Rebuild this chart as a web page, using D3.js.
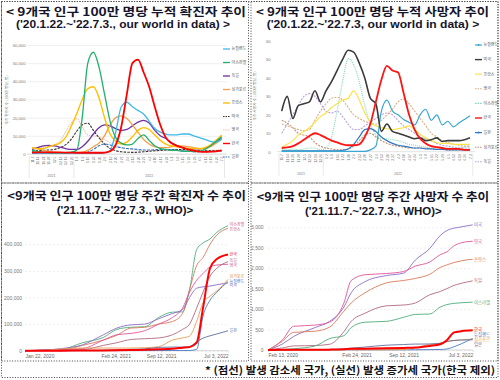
<!DOCTYPE html>
<html><head><meta charset="utf-8">
<script src="https://cdn.jsdelivr.net/npm/d3@7"></script>
<style>body{margin:0;background:#fff}svg{display:block}</style>
</head><body>
<svg id="c" width="500" height="380"></svg>
<script>
// ---------- shared categories ----------
const weekLabels = ["11.7","11.14","11.21","11.28","12.5","12.12","12.19","12.26","1.2","1.9","1.16","1.23","1.30","2.6","2.13","2.20","2.27","3.6","3.13","3.20","3.27","4.3","4.10","4.17","4.24","5.1","5.8","5.15","5.22","5.29","6.5","6.12","6.19","6.26","7.3"];
const yearLabels = ["2021","2022"];
const yearSplitIndex = 8;

// ---------- top-left: weekly cases per million ----------
const tlNames = ["뉴질랜드","이스라엘","독일","싱가포르","프랑스","미국","영국","한국","일본"];
const casesNZ = [300,300,300,300,300,300,300,300,300,300,300,300,400,600,2000,12000,26000,28500,26000,24000,22000,18000,14000,12000,11000,10500,10500,11000,11000,10000,9000,8000,7000,6500,8500];
const casesIsrael = [2000,1500,1000,800,700,700,800,1000,2000,20000,50000,56000,48000,33000,18000,9000,6000,5000,5500,8500,10500,7500,4500,3000,2500,2000,2000,1500,1500,1300,1500,2500,4500,7000,9500];
const casesGermany = [2500,3500,4500,4800,4500,3800,3000,2500,2500,4000,7000,11000,14500,16000,15500,14000,13000,13500,15500,17500,18500,17000,13000,10000,8500,6000,4500,3500,3000,2800,2800,3200,4500,6500,9000];
const casesSingapore = [3500,3000,2000,1500,1000,800,800,800,800,1000,2000,4000,6000,10000,16000,20000,21000,19500,16000,12000,8000,5500,4000,3500,3500,4000,4500,4500,4000,3500,3000,3000,4000,6000,8000];
const casesFrance = [3500,2800,3000,4000,5000,6000,9000,15000,22000,30000,36000,37000,31000,20000,11000,7000,5500,6500,9500,13000,14500,13500,10500,7500,5500,4500,4000,3500,3000,3000,3000,3500,5000,7500,10500];
const casesUS = [1500,1800,2000,2200,2500,3500,5000,8000,12500,16000,17000,13000,9000,5500,3000,1800,1200,1000,900,1000,1200,1500,1800,2000,2200,2500,2500,2500,2200,2000,1800,1800,1800,1800,1800];
const casesUK = [3500,3500,3500,4000,5000,7000,12000,17000,19500,15000,10500,10000,9500,8000,6000,4500,3500,3000,2500,2000,1800,1800,1800,1800,1800,1800,1800,1800,1800,1800,1800,1800,2000,2200,2500];
const casesKorea = [800,850,900,900,900,850,800,750,700,700,700,700,700,800,1500,5000,15000,33000,50000,52000,45000,37000,26000,16000,9000,6000,4500,3500,2500,1800,1300,1200,1300,1500,1800];
const casesJapan = [400,400,400,400,400,400,400,400,400,400,1000,2500,4500,5500,5000,4000,3500,3000,2800,2500,2200,2200,2300,2500,2500,2300,2000,1800,1500,1300,1200,1200,1300,1500,1800];
const tlYTicks = [0,10000,20000,30000,40000,50000,60000];

// ---------- top-right: weekly deaths per million ----------
const trNames = ["뉴질랜드","미국","프랑스","영국","이스라엘","한국","일본","싱가포르","독일"];
const deathsNZ = [0.2,0.2,0.2,0.2,0.2,0.2,0.2,0.2,0.2,0.2,0.2,0.2,0.2,0.2,0.2,0.2,1,3,22,28,22,20,17.5,16,14.5,20,23,17,20,14.5,16.5,13.5,15.5,17.5,19.5];
const deathsUS = [22,30,18,25,26,27,33,27,33,38,44,50,55,54,48,40,29,26,11,15,11,10,9,8,7,7.5,6,6.5,7.5,5.5,6,6,6,6.5,7.5];
const deathsFrance = [2.5,4,6,9,11,13,16,19,21,24,26,28,29,33,28,21,16,14,13,12.5,12,12.5,13,14,12,9.5,7.5,6,5,4.5,4.5,4,4,4,4];
const deathsUK = [15,14,13,12,11.5,12,17,22,26,29,29.5,28,24,20,18,16.5,15.5,15,17,20,23,27,28.5,26,22,18,14,10,8,6,5,4,3.5,3,3];
const deathsIsrael = [1,1,1.5,1,1.5,2,2,1,2,8,22,38,50.5,47,38,25,15,9,7,7,6.5,6,5,4,3.5,3,2.5,2,2,2,2,2,2,2.5,3];
const deathsKorea = [2,2.3,3,4.5,6.5,8.5,10,9,7.5,6,5,4,3.5,3.5,4,8,15,27,39,46.5,44,43,32,20,12,7,4.5,3,2.5,2,1.5,1.5,1.5,1,1];
const deathsJapan = [0.5,0.5,0.5,0.5,0.5,0.5,0.5,0.5,0.5,0.5,0.5,0.8,1.5,4,8,12,12.5,11,8,6,4.5,3.5,3,2.5,2,2,1.5,1.5,1.2,1.2,1,1,1,1,1];
const deathsSingapore = [17,15.5,13,10,9,8,5,3,2,1.5,1,1,1.5,3,6,9,10,8,6,4.5,3.5,3,2.5,2,2,2,2,1.5,1.5,1.5,1,1,1,1,1];
const deathsGermany = [10,15,20,25,30,31.5,30,26,22,21,22,19,15,12,12,14,16,18,20,21,20,17,14,12,10,8,7,6,4.5,3.5,3,2.5,2,2,2];
const trYTicks = [0,10,20,30,40,50,60];

// ---------- bottom-left: cumulative cases per million ----------
const blNames = ["이스라엘","프랑스","영국","독일","미국","싱가포르","뉴질랜드","일본","한국"];
const blDates = ["2020-01-22","2020-04-01","2020-07-01","2020-10-01","2021-01-01","2021-03-01","2021-05-01","2021-07-01","2021-09-01","2021-11-01","2021-12-15","2022-01-15","2022-02-15","2022-03-15","2022-04-15","2022-05-15","2022-07-03"];
const cumCasesIsrael = [0,1500,5000,30000,50000,80000,88000,90000,125000,145000,146000,230000,380000,405000,420000,445000,470000];
const cumCasesFrance = [0,2000,3000,20000,40000,58000,85000,88000,100000,110000,140000,230000,320000,350000,400000,435000,460000];
const cumCasesUK = [0,2000,4000,8000,40000,60000,65000,75000,100000,125000,160000,220000,265000,290000,315000,322000,325000];
const cumCasesGermany = [0,1500,2500,4000,20000,30000,42000,45000,48000,60000,80000,100000,160000,220000,280000,310000,335000];
const cumCasesUS = [0,1500,8000,22000,60000,85000,97000,100000,120000,140000,155000,200000,235000,240000,243000,248000,255000];
const cumCasesSingapore = [0,500,7000,10000,10000,10000,10000,11000,15000,40000,48000,55000,110000,180000,205000,225000,268000];
const cumCasesNZ = [0,300,300,350,400,450,500,550,600,700,800,900,5000,130000,190000,220000,260000];
const cumCasesJapan = [0,50,150,700,1800,3500,5000,6500,12500,13600,13700,16000,33000,47000,56000,63000,75000];
const cumCasesKorea = [0,200,250,500,1200,1700,2500,3500,5200,7500,11000,13500,30000,160000,310000,345000,362000];
const blYTicks = [0,100000,200000,300000,400000];
const blXTicks = ["2020-01-22","2021-02-24","2021-09-12","2022-07-03"];

// ---------- bottom-right: cumulative deaths per million ----------
const brNames = ["미국","영국","프랑스","독일","이스라엘","뉴질랜드","싱가포르","일본","한국"];
const brDates = ["2020-02-13","2020-04-15","2020-06-01","2020-09-01","2020-11-01","2021-01-01","2021-02-01","2021-04-01","2021-07-01","2021-09-12","2021-11-01","2022-01-01","2022-02-15","2022-03-15","2022-04-15","2022-05-15","2022-07-03"];
const cumDeathsUS = [0,150,330,550,700,1050,1400,1670,1820,1880,2200,2480,2800,2920,2980,3010,3060];
const cumDeathsUK = [0,250,580,610,680,1150,1700,1840,1870,1920,2050,2150,2330,2400,2550,2620,2660];
const cumDeathsFrance = [0,220,430,460,560,950,1150,1400,1640,1700,1750,1850,2020,2080,2140,2180,2220];
const cumDeathsGermany = [0,50,100,110,140,450,700,900,1080,1100,1150,1350,1430,1500,1580,1630,1690];
const cumDeathsIsrael = [0,10,30,100,280,350,550,680,700,800,870,880,1050,1110,1140,1155,1170];
const cumDeathsNZ = [0,2,4,5,5,5,5,5,5,5,6,10,12,25,80,150,285];
const cumDeathsSingapore = [0,1,2,5,5,5,5,5,6,10,50,140,160,200,235,245,265];
const cumDeathsJapan = [0,1,7,10,14,27,45,72,118,133,145,146,165,210,232,244,250];
const cumDeathsKorea = [0,4,5,6,9,18,28,33,40,50,60,100,140,240,430,460,480];
const brYTicks = [0,500,1000,1500,2000,2500,3000];
const brXTicks = ["2020-02-13","2021-02-24","2021-09-12","2022-07-03"];

// ---------- titles ----------
const titles = [
  "< 9개국 인구 100만 명당 누적 확진자 추이",
  "('20.1.22.~'22.7.3., our world in data) >",
  "< 9개국 인구 100만 명당 누적 사망자 추이",
  "('20.1.22.~'22.7.3, our world in data) >",
  "<9개국 인구 100만 명당 주간 확진자 수 추이",
  "('21.11.7.~'22.7.3., WHO)>",
  "<9개국 인구 100만 명당 주간 사망자 수 추이",
  "('21.11.7.~'22.7.3., WHO)>"
];
const footnote = "* (점선) 발생 감소세 국가, (실선) 발생 증가세 국가(한국 제외)";

// ================= drawing =================
const FONT = "'Noto Sans CJK KR','Noto Sans',sans-serif";
const svg = d3.select("#c").attr("font-family", FONT);
svg.append("rect").attr("width",500).attr("height",380).attr("fill","#fff");

// dotted borders
const dot = {stroke:"#444","stroke-width":1,"stroke-dasharray":"1,1.6",fill:"none"};
function drect(x,y,w,h){const r=svg.append("rect").attr("x",x).attr("y",y).attr("width",w).attr("height",h);for(const k in dot)r.attr(k,dot[k]);}
drect(1.5,1.5,247,181.5);
drect(251,1.5,247,181.5);
drect(1.5,183,247,178);
drect(251,183,247,178);
drect(1.5,1.5,496.5,376);

// titles (line 1 Korean, line 2 Latin)
const titlePos = [[6,16,240],[16,27.5,214],[256,16,233],[266.7,27.5,212.6],[7.3,200,238.7],[56.7,214,136.6],[256.7,201,232.6],[305,215,136.7]];
titles.forEach((t,i)=>{
  const p=titlePos[i];
  svg.append("text").attr("x",p[0]).attr("y",p[1]).attr("textLength",p[2]).attr("lengthAdjust","spacingAndGlyphs")
    .attr("font-size",i%2===0?11.5:11.5).attr("font-weight","bold").attr("fill","#15152a")
    .attr("font-family",i%2===0?FONT:"'Liberation Sans','Noto Sans',sans-serif").text(t);
});
svg.append("text").attr("x",205).attr("y",373.5).attr("textLength",290).attr("lengthAdjust","spacingAndGlyphs")
  .attr("font-size",10.5).attr("font-weight","bold").attr("fill","#111").text(footnote);

// ---------- weekly panel helper ----------
function weeklyPanel(o){
  const g = svg.append("g");
  const x = d3.scalePoint().domain(weekLabels).range([o.x0,o.x1]);
  const y = d3.scaleLinear().domain([0,o.yMax]).range([o.yb,o.yt]);
  const step = x.step();
  const gy = g.append("g").attr("transform",`translate(${o.x0-step*0.9},0)`)
    .call(d3.axisLeft(y).tickValues(o.ticks).tickSize(o.grid?-(o.x1-o.x0+step*1.8):0).tickFormat(d3.format(",")));
  gy.select(".domain").remove();
  gy.selectAll("line").attr("stroke","#e4e4e4").attr("stroke-width",0.6);
  gy.selectAll("text").attr("font-size",4.2).attr("fill","#777").attr("x",o.tickX).attr("font-family","'Liberation Sans',sans-serif");
  g.append("line").attr("x1",o.x0-step*0.9).attr("x2",o.x1+step*0.9).attr("y1",y(0)).attr("y2",y(0)).attr("stroke","#d0d0d0").attr("stroke-width",0.6);
  const gx = g.append("g").attr("transform",`translate(0,${o.yb+1.5})`).call(d3.axisBottom(x).tickSize(0));
  gx.select(".domain").remove();
  gx.selectAll("text").attr("transform","rotate(-90)").attr("x",-1).attr("y",0).attr("dy","0.35em")
    .attr("text-anchor","end").attr("font-size",3.4).attr("fill","#777").attr("font-family","'Liberation Sans',sans-serif");
  const sepX = [x(weekLabels[0])-step/2, (x(weekLabels[yearSplitIndex-1])+x(weekLabels[yearSplitIndex]))/2, x(weekLabels[weekLabels.length-1])+step/2];
  sepX.forEach(sx=>g.append("line").attr("x1",sx).attr("x2",sx).attr("y1",o.yb+2).attr("y2",o.yb+24).attr("stroke","#d8d8d8").attr("stroke-width",0.6));
  yearLabels.forEach((yl,i)=>g.append("text").attr("x",(sepX[i]+sepX[i+1])/2).attr("y",o.yb+23).attr("text-anchor","middle")
    .attr("font-size",3.6).attr("fill","#777").text(yl));
  g.append("text").attr("transform",`translate(${o.titleX},${o.titleY}) rotate(-90)`).attr("text-anchor","middle")
    .attr("font-size",3.8).attr("fill","#888").text(o.yTitle);
  const line = d3.line().x((d,i)=>x(weekLabels[i])).y(d=>y(d)).curve(d3.curveMonotoneX);
  o.order.forEach(k=>{
    const s=o.series[k];
    g.append("path").attr("d",line(s.values)).attr("fill","none").attr("stroke",s.color)
      .attr("stroke-width",s.w).attr("stroke-dasharray",s.dash||null).attr("stroke-linejoin","round");
  });
  o.series.forEach((s,i)=>{
    const ly=o.legY+i*o.legStep;
    g.append("line").attr("x1",o.legX).attr("x2",o.legX+7).attr("y1",ly).attr("y2",ly).attr("stroke",s.color)
      .attr("stroke-width",Math.min(s.w,1.4)).attr("stroke-dasharray",s.dash?"1.5,1":null);
    if(s.marker) g.append("circle").attr("cx",o.legX+3.5).attr("cy",ly).attr("r",1).attr("fill",s.color);
    g.append("text").attr("x",o.legX+8.5).attr("y",ly).attr("dy","0.35em").attr("font-size",4).attr("fill","#555").text(s.name);
  });
}

const tlValues=[casesNZ,casesIsrael,casesGermany,casesSingapore,casesFrance,casesUS,casesUK,casesKorea,casesJapan];
const tlStyle=[["#3DB8EA",1.3,null],["#22B06C",1.3,null],["#7030A0",1.3,null],["#F5A04A",1.3,null],["#FFC000",1.4,null],["#3A302C",1.1,"2.5,1.2"],["#E9C2AE",1.2,"1.2,1"],["#FF0000",1.8,null],["#2E74C8",1.1,"3,1.2"]];
weeklyPanel({x0:32,x1:221.7,yb:154,yt:45,yMax:60000,ticks:tlYTicks,grid:true,tickX:-1.5,
  titleX:8,titleY:100,yTitle:"주간 확진자 수 (100만 명당, 명)",
  series:tlNames.map((n,i)=>({name:n,values:tlValues[i],color:tlStyle[i][0],w:tlStyle[i][1],dash:tlStyle[i][2]})),
  order:[6,5,8,2,3,4,0,1,7],legX:223,legY:49,legStep:13.5});

const trValues=[deathsNZ,deathsUS,deathsFrance,deathsUK,deathsIsrael,deathsKorea,deathsJapan,deathsSingapore,deathsGermany];
const trStyle=[["#3AA6D4",1.2,null,1],["#3B3B3B",1.6,null],["#FFE24A",1.2,null],["#D8AE8A",1.1,"2,1.2"],["#7ED9B2",1.1,"1,1"],["#FF1414",1.8,null],["#2E78C2",1.2,null,1],["#C09070",1.1,"2,1.2"],["#B9A2DA",1.1,"2,1.2"]];
weeklyPanel({x0:281.7,x1:470,yb:151.7,yt:41,yMax:60,ticks:trYTicks,grid:false,tickX:-6,
  titleX:256,titleY:96,yTitle:"주간 사망자 수 (100만 명당, 명)",
  series:trNames.map((n,i)=>({name:n,values:trValues[i],color:trStyle[i][0],w:trStyle[i][1],dash:trStyle[i][2],marker:trStyle[i][3]})),
  order:[8,7,3,4,2,6,0,1,5],legX:475,legY:45,legStep:14.6});

// ---------- cumulative panel helper ----------
function relax(items,gap,iters){
  items.sort((a,b)=>a.ly-b.ly);
  for(let k=0;k<iters;k++){
    let moved=false;
    for(let i=1;i<items.length;i++){
      const d=items[i].ly-items[i-1].ly;
      if(d<gap){const m=(gap-d)/2;items[i].ly+=m;items[i-1].ly-=m;moved=true;}
    }
    if(!moved)break;
  }
}
function cumPanel(o){
  const g=svg.append("g");
  const parse=d3.timeParse("%Y-%m-%d");
  const x=d3.scaleTime().domain([parse(o.dates[0]),parse(o.dates[o.dates.length-1])]).range([o.x0,o.x1]);
  const y=d3.scaleLinear().domain([0,o.yTop]).range([o.yb,o.yt]);
  const gy=g.append("g").attr("transform",`translate(${o.x0},0)`)
    .call(d3.axisLeft(y).tickValues(o.yTicks).tickSize(-(o.x1-o.x0)).tickFormat(d3.format(",")));
  gy.select(".domain").remove();
  gy.selectAll(".tick line").attr("stroke","#e2e2e2").attr("stroke-width",0.6).attr("stroke-dasharray","2,2");
  gy.selectAll("text").attr("font-size",5).attr("fill","#777").attr("x",o.tickLabelX-o.x0).attr("font-family","'Liberation Sans',sans-serif");
  g.append("line").attr("x1",o.x0).attr("x2",o.x1).attr("y1",y(0)).attr("y2",y(0)).attr("stroke","#bbb").attr("stroke-width",0.6);
  const fmt=d3.timeFormat("%b %-d, %Y");
  const gx=g.append("g").attr("transform",`translate(0,${o.yb})`)
    .call(d3.axisBottom(x).tickValues(o.xTicks.map(parse)).tickSize(2).tickPadding(1.5).tickFormat(fmt));
  gx.select(".domain").remove();
  gx.selectAll("line").attr("stroke","#bbb").attr("stroke-width",0.5);
  gx.selectAll("text").attr("font-size",5).attr("fill","#666").attr("font-family","'Liberation Sans',sans-serif")
    .attr("text-anchor",(d,i)=>i===0?"start":(i===o.xTicks.length-1?"end":"middle"));
  const line=d3.line().x((d,i)=>x(parse(o.dates[i]))).y(d=>y(d)).curve(d3.curveMonotoneX);
  o.series.forEach(s=>{
    g.append("path").attr("d",line(s.values)).attr("fill","none").attr("stroke",s.color).attr("stroke-width",s.w).attr("stroke-linejoin","round");
  });
  const labs=o.series.map(s=>({s,ly:y(s.values[s.values.length-1])}));
  relax(labs,o.gap,300);
  labs.forEach(l=>g.append("text").attr("x",o.labelX).attr("y",l.ly).attr("dy","0.35em").attr("font-size",o.labelSize)
    .attr("fill",l.s.labelColor||l.s.color).text(l.s.name));
}

const blValues=[cumCasesIsrael,cumCasesFrance,cumCasesUK,cumCasesGermany,cumCasesUS,cumCasesSingapore,cumCasesNZ,cumCasesJapan,cumCasesKorea];
const blColors=["#4DAE7A","#D9795A","#E0559A","#B06A80","#8C6CC6","#E99A55","#4A7AC8","#5F6F9E","#FF0000"];
const blLabelColors=["#D24A8A","#C8506E","#D84A8E","#B0607A","#8060C0","#E08A45","#4A70C0","#6070A0","#E00000"];
cumPanel({dates:blDates,x0:25,x1:228,yb:350.7,yt:244.3,yTop:400000,yTicks:blYTicks,xTicks:blXTicks,tickLabelX:22,
  series:blNames.map((n,i)=>({name:n,values:blValues[i],color:blColors[i],labelColor:blLabelColors[i],w:n==="한국"?2:0.9})),
  labelX:229.5,labelSize:4,gap:4.6});

const brValues=[cumDeathsUS,cumDeathsUK,cumDeathsFrance,cumDeathsGermany,cumDeathsIsrael,cumDeathsNZ,cumDeathsSingapore,cumDeathsJapan,cumDeathsKorea];
const brColors=["#8C6CC6","#E0559A","#D9795A","#B06A80","#4DAE7A","#4A7AC8","#E99A55","#5F6F9E","#FF0000"];
cumPanel({dates:brDates,x0:268,x1:472.7,yb:350,yt:227.3,yTop:3000,yTicks:brYTicks,xTicks:brXTicks,tickLabelX:263.5,
  series:brNames.map((n,i)=>({name:n,values:brValues[i],color:brColors[i],w:n==="한국"?2:0.9})),
  labelX:474,labelSize:4.4,gap:5.2});
</script>
</body></html>
